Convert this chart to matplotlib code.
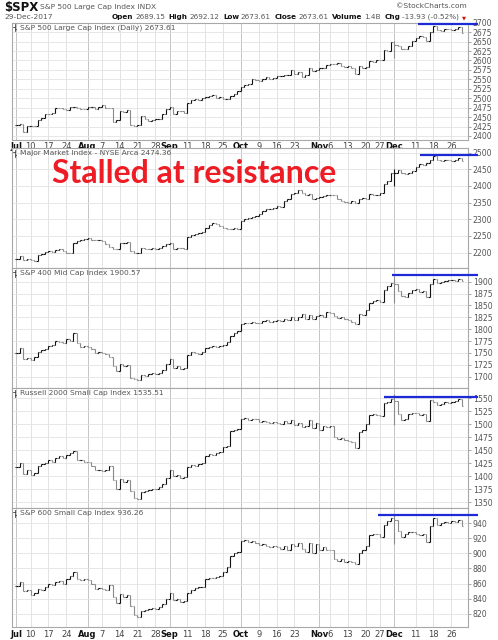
import numpy as np
import matplotlib.pyplot as plt

plt.rcParams['font.family'] = ['DejaVu Sans']

# 126 sessions, 3-Jul-2017 .. 29-Dec-2017 (index = trading day)
tick_pos = [0, 4, 9, 14, 20, 24, 29, 34, 39, 43, 48, 53, 58, 63, 68, 73, 78, 85, 88, 93, 98, 102, 106, 112, 117, 122]
tick_lab = ['Jul', '10', '17', '24', 'Aug', '7', '14', '21', '28', 'Sep', '11', '18', '25',
            'Oct', '9', '16', '23', 'Nov', '6', '13', '20', '27', 'Dec', '11', '18', '26']
month_lab = ['Jul', 'Aug', 'Sep', 'Oct', 'Nov', 'Dec']

spx_close = [2429.01, 2432.54, 2409.75, 2425.18, 2427.43, 2425.53, 2443.25, 2447.83, 2459.27, 2459.14,
             2460.61, 2473.83, 2473.45, 2472.54, 2469.91, 2477.13, 2477.83, 2475.42, 2472.10, 2470.30,
             2476.35, 2477.57, 2472.16, 2476.83, 2480.91, 2474.92, 2474.02, 2438.21, 2441.32, 2465.84,
             2464.61, 2468.11, 2430.01, 2425.55, 2428.37, 2452.51, 2444.04, 2438.97, 2443.05, 2444.24,
             2446.30, 2457.59, 2471.65, 2476.55, 2457.85, 2465.54, 2465.10, 2461.43, 2488.11, 2496.48,
             2498.37, 2495.62, 2500.23, 2503.87, 2506.65, 2508.24, 2500.60, 2502.22, 2496.66, 2496.84,
             2507.04, 2510.06, 2519.36, 2529.12, 2534.58, 2537.74, 2552.07, 2549.33, 2544.73, 2550.64,
             2555.24, 2550.93, 2553.17, 2557.64, 2559.36, 2561.26, 2562.10, 2575.21, 2564.98, 2569.13,
             2557.15, 2560.40, 2581.07, 2572.83, 2575.26, 2579.36, 2579.85, 2587.84, 2591.13, 2590.64,
             2594.38, 2584.62, 2582.30, 2584.84, 2578.87, 2564.62, 2585.64, 2578.85, 2582.14, 2599.03,
             2597.08, 2602.42, 2601.42, 2627.04, 2626.07, 2647.58, 2642.22, 2639.44, 2629.57, 2629.27,
             2636.98, 2651.50, 2659.99, 2664.11, 2662.85, 2652.01, 2675.81, 2690.16, 2681.47, 2679.25,
             2684.57, 2683.34, 2680.50, 2682.62, 2687.54, 2673.61]

mmi_close = [2180, 2190, 2178, 2180, 2178, 2176, 2192, 2197, 2202, 2205,
             2203, 2208, 2210, 2206, 2200, 2198, 2230, 2236, 2238, 2240,
             2243, 2238, 2237, 2238, 2236, 2225, 2218, 2212, 2210, 2228,
             2230, 2233, 2205, 2198, 2200, 2215, 2212, 2210, 2214, 2212,
             2215, 2220, 2225, 2230, 2212, 2215, 2214, 2212, 2248, 2252,
             2255, 2258, 2262, 2275, 2282, 2290, 2285, 2280, 2275, 2272,
             2270, 2275, 2272, 2295, 2300, 2303, 2308, 2310, 2315, 2325,
             2330, 2332, 2335, 2340, 2338, 2355, 2362, 2375, 2378, 2388,
             2380, 2372, 2375, 2362, 2365, 2368, 2370, 2372, 2374, 2373,
             2360, 2355, 2352, 2350, 2355, 2350, 2360, 2365, 2360, 2375,
             2372, 2373, 2380, 2405, 2415, 2438, 2440, 2448, 2440, 2435,
             2438, 2445, 2458, 2465, 2463, 2468, 2478, 2490, 2478, 2476,
             2478, 2477, 2476, 2478, 2484, 2474.36]

mid_close = [1750, 1760, 1738, 1740, 1735, 1742, 1752, 1756, 1758, 1765,
             1767, 1775, 1772, 1770, 1780, 1776, 1792, 1770, 1762, 1765,
             1762, 1758, 1750, 1752, 1750, 1748, 1742, 1722, 1712, 1726,
             1722, 1724, 1698, 1694, 1692, 1704, 1702, 1705, 1707, 1705,
             1708, 1714, 1726, 1737, 1718, 1722, 1716, 1718, 1745, 1752,
             1750, 1748, 1752, 1760, 1762, 1764, 1762, 1765, 1766, 1772,
             1786, 1792, 1796, 1810, 1814, 1812, 1815, 1813, 1812, 1818,
             1820, 1816, 1818, 1820, 1818, 1822, 1820, 1826, 1820, 1825,
             1832, 1822, 1830, 1822, 1828, 1830, 1826, 1836, 1834, 1828,
             1824, 1826, 1822, 1820, 1815, 1810, 1832, 1830, 1840, 1855,
             1860, 1862, 1858, 1882, 1890, 1898, 1895, 1880, 1870, 1868,
             1876, 1882, 1884, 1878, 1880, 1867, 1895, 1905, 1898, 1900,
             1902, 1903, 1904, 1902, 1906, 1900.57]

rut_close = [1418, 1425, 1405, 1412, 1402, 1406, 1420, 1423, 1425, 1431,
             1428, 1435, 1440, 1436, 1441, 1445, 1449, 1431, 1432, 1428,
             1427, 1420, 1412, 1413, 1410, 1412, 1420, 1392, 1375, 1395,
             1390, 1393, 1372, 1358, 1356, 1370, 1372, 1374, 1376, 1375,
             1380, 1386, 1396, 1413, 1400, 1403, 1397, 1398, 1418, 1422,
             1420, 1424, 1425, 1440, 1442, 1441, 1444, 1446, 1456, 1458,
             1488, 1490, 1491, 1510, 1512, 1508, 1511, 1510, 1505, 1507,
             1505, 1503, 1504, 1502, 1500, 1506, 1502, 1508, 1498, 1503,
             1494, 1496, 1508, 1493, 1502, 1490, 1497, 1495, 1496, 1475,
             1472, 1474, 1470, 1468, 1466, 1455, 1486, 1490, 1500, 1518,
             1520, 1518, 1516, 1542, 1544, 1548, 1545, 1519, 1508, 1510,
             1520, 1522, 1521, 1518, 1520, 1506, 1546, 1544, 1538, 1540,
             1544, 1542, 1543, 1545, 1548, 1535.51]

sml_close = [857, 862, 850, 852, 845, 847, 853, 852, 856, 860,
             858, 862, 864, 860, 866, 870, 876, 866, 865, 866,
             865, 860, 853, 854, 853, 852, 858, 842, 834, 846,
             843, 845, 830, 818, 816, 824, 825, 827, 828, 827,
             829, 833, 840, 848, 838, 840, 836, 837, 848, 852,
             854, 855, 856, 866, 868, 867, 869, 870, 876, 882,
             896, 900, 902, 916, 918, 915, 916, 914, 911, 912,
             910, 909, 910, 908, 906, 910, 905, 912, 910, 914,
             906, 902, 914, 900, 912, 904, 908, 905, 904, 892,
             890, 892, 889, 890, 888, 886, 900, 904, 910, 924,
             926, 925, 922, 938, 942, 946, 944, 930, 922, 925,
             928, 928, 926, 924, 925, 915, 936, 946, 938, 940,
             941, 940, 942, 941, 944, 936.26]

# 1-Dec-2017 intraday spike
spike_day = 106
spike_low = [2605.5, 2400, 1855, 1499, 912]
spike_high = [2650.6, 2452, 1912, 1558, 950]

# hand-drawn resistance lines
res_level = [2697, 2493, 1914, 1552, 950]
res_from = [112.6, 113.2, 105.3, 103.1, 101.4]

closes = [spx_close, mmi_close, mid_close, rut_close, sml_close]
names = ['S&P 500 Large Cap Index (Daily) 2673.61', 'Major Market Index - NYSE Arca 2474.36',
         'S&P 400 Mid Cap Index 1900.57', 'Russell 2000 Small Cap Index 1535.51',
         'S&P 600 Small Cap Index 936.26']
ylims = [(2390.7, 2700.5), (2154, 2514), (1676, 1929), (1339, 1570), (802.8, 959.8)]
yticks = [np.arange(2400, 2701, 25), np.arange(2200, 2501, 50), np.arange(1700, 1901, 25),
          np.arange(1350, 1551, 25), np.arange(820, 941, 20)]

W, H = 498, 640
fig = plt.figure(figsize=(W / 100, H / 100), dpi=100)
tops = [22.5, 148, 268, 388, 508]
bots = [139.5, 268, 388, 508, 627]

for k in range(5):
    ax = fig.add_axes([12 / W, 1 - bots[k] / H, 456 / W, (bots[k] - tops[k]) / H])
    c = np.array(closes[k], dtype=float)
    o = np.r_[c[0], c[:-1]]
    lo = np.minimum(o, c)
    hi = np.maximum(o, c)
    lo[spike_day] = min(lo[spike_day], spike_low[k])
    hi[spike_day] = max(hi[spike_day], spike_high[k])
    x = np.arange(len(c))
    col = np.where(c >= o, '#111111', '#8a8a8a')
    ax.vlines(x, lo, hi, colors=col, lw=0.8)
    ax.hlines(o, x - 0.4, x, colors=col, lw=0.8)
    ax.hlines(c, x, x + 0.4, colors=col, lw=0.8)

    ax.set_xlim(-1.2, 126.7)
    ax.set_ylim(*ylims[k])
    ax.set_yticks(yticks[k])
    ax.yaxis.tick_right()
    ax.tick_params(axis='y', labelsize=5.6, labelcolor='#555555', color='#999999',
                   length=2.5, width=0.6, pad=1)
    ax.grid(axis='y', color='#e3e3e3', lw=0.6)
    for p, lab in zip(tick_pos, tick_lab):
        ax.axvline(p, color='#c4c4c4' if lab in month_lab else '#e3e3e3', lw=0.7, zorder=0)
    ax.set_xticks(tick_pos)
    if k in (0, 4):
        ax.set_xticklabels(tick_lab)
        ax.tick_params(axis='x', labelsize=6, labelcolor='#444444', length=0, pad=2)
        for t in ax.get_xticklabels():
            if t.get_text() in month_lab:
                t.set_fontweight('bold')
                t.set_color('#111111')
    else:
        ax.tick_params(axis='x', labelbottom=False, length=0)
    for s in ax.spines.values():
        s.set_color('#a8a8a8')
        s.set_linewidth(0.8)

    ax.plot([res_from[k], 129.5], [res_level[k]] * 2, color='#1d2bd6', lw=1.6,
            clip_on=False, solid_capstyle='butt', zorder=5)

    # small bar icon + panel title
    ax.plot([0.006, 0.006], [0.925, 0.985], transform=ax.transAxes, color='#444444', lw=0.6)
    ax.plot([0.003, 0.006], [0.965, 0.965], transform=ax.transAxes, color='#444444', lw=0.6)
    ax.plot([0.006, 0.009], [0.945, 0.945], transform=ax.transAxes, color='#444444', lw=0.6)
    ax.text(0.017, 0.955, names[k], transform=ax.transAxes, fontsize=5.4,
            color='#555555', va='center', ha='left')

# header
fig.text(4 / W, 1 - 7 / H, '$SPX', fontsize=8.5, fontweight='bold', color='#111111', va='center')
fig.text(40 / W, 1 - 7 / H, 'S&P 500 Large Cap Index INDX', fontsize=5.4, color='#555555', va='center')
fig.text(4 / W, 1 - 17 / H, '29-Dec-2017', fontsize=5.4, color='#555555', va='center')
fig.text(467 / W, 1 - 6 / H, '\u00a9StockCharts.com', fontsize=5.4, color='#555555',
         va='center', ha='right')

info = [('Open', True), ('2689.15', False), ('High', True), ('2692.12', False),
        ('Low', True), ('2673.61', False), ('Close', True), ('2673.61', False),
        ('Volume', True), ('1.4B', False), ('Chg', True), ('-13.93 (-0.52%)', False)]
fig.canvas.draw()
r = fig.canvas.get_renderer()
parts = []
for s, b in info:
    t = fig.text(0, 1 - 17 / H, s, fontsize=5.2, fontweight='bold' if b else 'normal',
                 color='#111111' if b else '#555555', va='center')
    parts.append((t, t.get_window_extent(renderer=r).width, b))
gap = 1.6
total = sum(wd for _, wd, _ in parts) + gap * (len(parts) - 1) + sum(2.2 for _, _, b in parts if not b)
xp = 461 - total
for t, wd, b in parts:
    t.set_x(xp / W)
    xp += wd + gap + (2.2 if not b else 0)
fig.text((xp - 0.5) / W, 1 - 17.5 / H, '\u25bc', fontsize=3.8, color='#cc1111', va='center')

fig.text(52 / W, 1 - 183 / H, 'Stalled at resistance', fontsize=23, fontweight='bold',
         family=['Lato', 'DejaVu Sans'], color='#ee1c24', va='baseline')

fig.savefig('out.png', dpi=100)
